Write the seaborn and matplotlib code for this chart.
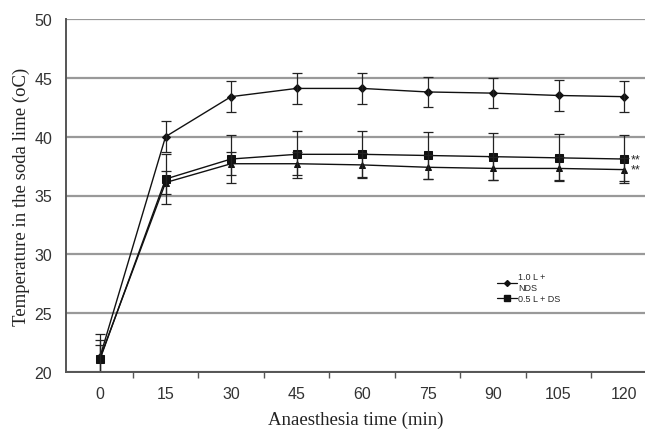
import numpy as np
import pandas as pd
import matplotlib
matplotlib.use("Agg")
import matplotlib.pyplot as plt
from matplotlib.lines import Line2D
import seaborn as sns

# anaesthesia time points (min)
times = [0, 15, 30, 45, 60, 75, 90, 105, 120]

# 1.0 L + NDS (diamonds)
nds_mean = [21.3, 40.0, 43.4, 44.1, 44.1, 43.8, 43.7, 43.5, 43.4]
nds_err = [1.9, 1.3, 1.3, 1.3, 1.3, 1.3, 1.3, 1.3, 1.3]

# 0.5 L + DS (squares)
ds_mean = [21.1, 36.4, 38.1, 38.5, 38.5, 38.4, 38.3, 38.2, 38.1]
ds_err = [1.2, 2.1, 2.0, 2.0, 2.0, 2.0, 2.0, 2.0, 2.0]

# third series (triangles)
tri_mean = [21.2, 36.1, 37.7, 37.7, 37.6, 37.4, 37.3, 37.3, 37.2]
tri_err = [1.5, 1.0, 1.0, 1.0, 1.0, 1.0, 1.0, 1.0, 1.0]

series = [
    ("1.0 L + NDS", nds_mean, nds_err, "D", 4.5),
    ("0.5 L + DS", ds_mean, ds_err, "s", 6),
    ("third", tri_mean, tri_err, "^", 5),
]

sns.set_style("white")
plt.rcParams['font.family'] = ['Liberation Sans', 'DejaVu Sans']

fig = plt.figure(figsize=(6.45, 4.31), dpi=100)
ax = fig.add_axes([66 / 645, 1 - 373 / 431, 1 - 66 / 645, (373 - 20) / 431])

for name, m, e, mk, ms in series:
    df = pd.DataFrame({"time": times, "temp": m})
    sns.lineplot(data=df, x="time", y="temp", ax=ax, color="#111111",
                 marker=mk, markersize=ms, markeredgecolor="#111111",
                 linewidth=1.0, legend=False)
    ax.errorbar(times, m, yerr=e, fmt="none", ecolor="#222222",
                elinewidth=0.9, capsize=3.5, capthick=0.9)

# significance marks
ax.text(121.5, ds_mean[-1], "**", fontsize=9, va="center", ha="left")
ax.text(121.5, tri_mean[-1], "**", fontsize=9, va="center", ha="left")

ax.set_xlim(-7.8, 124.8)
ax.set_ylim(20, 50)
ax.set_yticks(range(20, 51, 5))
ax.set_xticks(times)
ax.set_xticks([t + 7.5 for t in times[:-1]], minor=True)
ax.grid(axis="y", color="#999999", linewidth=1.6)
ax.grid(axis="x", visible=False)
ax.set_axisbelow(True)

for s in ["top", "right"]:
    ax.spines[s].set_visible(False)
for s in ["left", "bottom"]:
    ax.spines[s].set_color("#555555")
    ax.spines[s].set_linewidth(1.4)

ax.tick_params(axis="both", which="both", direction="out", colors="#555555",
               labelcolor="#333333", labelsize=11.5)
ax.tick_params(axis="y", length=6, width=1, pad=4)
ax.tick_params(axis="x", which="major", length=4, width=1, pad=6)
ax.tick_params(axis="x", which="minor", length=4, width=1, bottom=True)

ax.set_xlabel("Anaesthesia time (min)", family="Liberation Serif",
              fontsize=13.5, color="#222222", labelpad=7)
ax.set_ylabel("Temperature in the soda lime (oC)", family="Liberation Serif",
              fontsize=13.5, color="#222222", labelpad=3)

handles = [
    Line2D([], [], color="#111111", marker="D", markersize=3, linewidth=0.9),
    Line2D([], [], color="#111111", marker="s", markersize=4, linewidth=0.9),
]
ax.legend(handles, ["1.0 L +\nNDS", "0.5 L + DS"], loc="upper left",
          bbox_to_anchor=(0.73, 0.305), frameon=False, fontsize=6.5,
          handlelength=2.2, handletextpad=0.2, labelspacing=0.2)

fig.savefig("out.png", dpi=100, facecolor="white")
